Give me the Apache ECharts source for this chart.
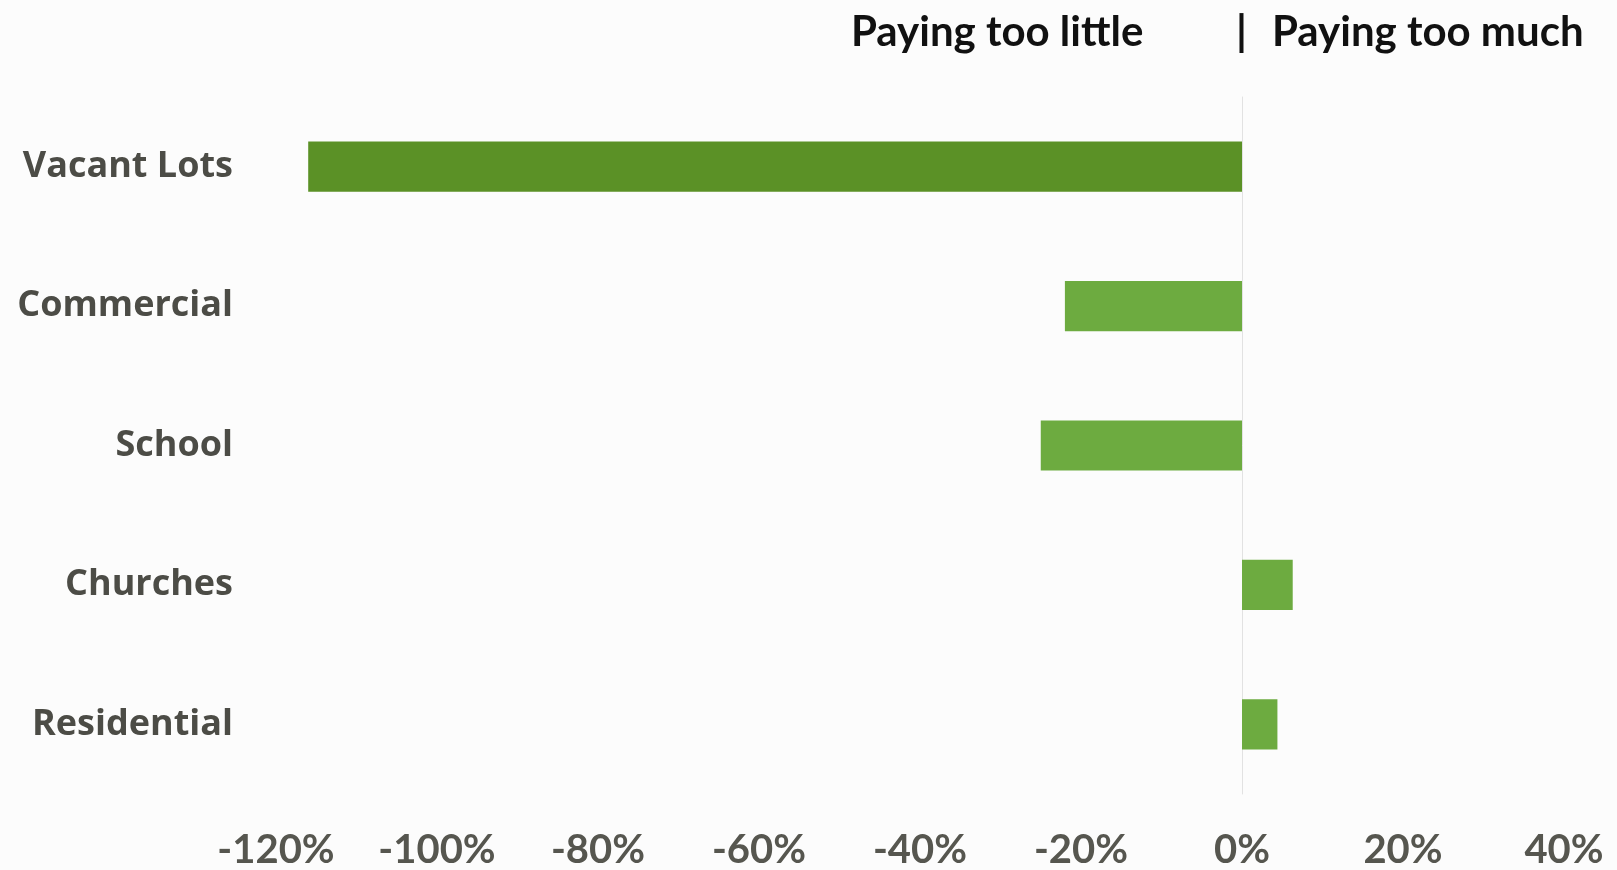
<!DOCTYPE html>
<html>
<head>
<meta charset="utf-8">
<title>Paying too little | Paying too much</title>
<script src="https://cdn.jsdelivr.net/npm/echarts@6/dist/echarts.min.js"></script>
<style>
  html, body {
    margin: 0;
    padding: 0;
    background: #fcfcfc;
  }
  #chart {
    width: 1617px;
    height: 870px;
  }
</style>
</head>
<body>
<div id="chart"></div>
<script>
// categories, top to bottom
const categories = ['Vacant Lots', 'Commercial', 'School', 'Churches', 'Residential']
// difference in percent (negative = paying too little)
const diffValues = [-116, -22, -25, 6.3, 4.4]
// x axis ticks
const tickMin = -120
const tickMax = 40
const tickStep = 20

const chart = echarts.init(document.getElementById('chart'))

chart.setOption({
  backgroundColor: '#fcfcfc',
  animation: false,
  grid: {
    left: 276,
    right: 53,
    top: 97,
    bottom: 73
  },
  xAxis: {
    type: 'value',
    min: tickMin,
    max: tickMax,
    interval: tickStep,
    axisLine: { show: false },
    axisTick: { show: false },
    splitLine: { show: false },
    axisLabel: {
      formatter: v => v + '%',
      fontFamily: 'Lato',
      fontWeight: 'bold',
      fontSize: 40,
      color: '#56564f',
      margin: 36
    }
  },
  yAxis: {
    type: 'category',
    data: categories,
    inverse: true,
    axisLine: {
      show: true,
      onZero: true,
      lineStyle: { color: '#e2e2e2', width: 1 }
    },
    axisTick: { show: false },
    axisLabel: {
      fontFamily: 'Open Sans',
      fontWeight: 'bold',
      fontSize: 36,
      color: '#4c4c46',
      margin: 43
    }
  },
  series: [{
    type: 'bar',
    data: diffValues,
    barWidth: '36%',
    itemStyle: {
      // first bar is a darker green in the original
      color: p => p.dataIndex === 0 ? '#5b9126' : '#6dab40'
    }
  }],
  graphic: [
    {
      type: 'text',
      left: 851,
      top: 11,
      style: {
        text: 'Paying too little',
        font: 'bold 42px Lato',
        fill: '#111111'
      }
    },
    {
      type: 'text',
      left: 1236,
      top: 11,
      style: {
        text: '|',
        font: 'bold 42px Lato',
        fill: '#111111'
      }
    },
    {
      type: 'text',
      left: 1272,
      top: 11,
      style: {
        text: 'Paying too much',
        font: 'bold 42px Lato',
        fill: '#111111'
      }
    }
  ]
})

window.addEventListener('resize', () => chart.resize())
</script>
</body>
</html>
